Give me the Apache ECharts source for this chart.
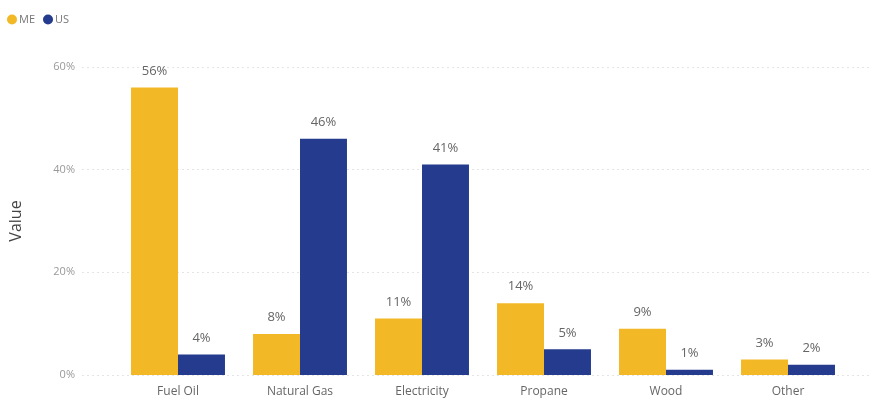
<!DOCTYPE html>
<html>
<head>
<meta charset="utf-8">
<script src="https://cdn.jsdelivr.net/npm/echarts@6/dist/echarts.min.js"></script>
<style>
  html, body { margin: 0; padding: 0; background: #fff; }
  #chart { width: 879px; height: 401px; }
</style>
</head>
<body>
<div id="chart"></div>
<script>
// Home heating fuel shares, Maine vs. United States (percent of households)
const categories = ['Fuel Oil', 'Natural Gas', 'Electricity', 'Propane', 'Wood', 'Other'];
const meValues = [56, 8, 11, 14, 9, 3];
const usValues = [4, 46, 41, 5, 1, 2];
const yTicks = [0, 20, 40, 60];

const FONT = '"Open Sans", "Noto Sans", sans-serif';
const chart = echarts.init(document.getElementById('chart'));

const labelStyle = {
  show: true,
  position: 'top',
  distance: 10,
  color: '#666',
  fontSize: 13,
  fontFamily: FONT,
  formatter: p => p.value + '%'
};

chart.setOption({
  animation: false,
  textStyle: { fontFamily: FONT },
  legend: {
    left: 2,
    top: 9,
    itemWidth: 10,
    itemHeight: 10,
    itemGap: 8,
    icon: 'circle',
    textStyle: { color: '#777', fontSize: 11, fontFamily: FONT, padding: [0, 0, 0, -3] },
    data: ['ME', 'US']
  },
  grid: [
    // wide grid carrying the gridlines and value axis labels
    { left: 75, right: 9, top: 67, bottom: 26 },
    // grid holding the bars
    { left: 117, right: 30, top: 67, bottom: 26 }
  ],
  xAxis: [
    { gridIndex: 0, type: 'value', show: false, min: 0, max: 1 },
    {
      gridIndex: 1,
      type: 'category',
      data: categories,
      axisLine: { show: false },
      axisTick: { show: false },
      axisLabel: { color: '#666', fontSize: 12, fontFamily: FONT, margin: 11 }
    }
  ],
  yAxis: [
    {
      gridIndex: 0,
      type: 'value',
      min: yTicks[0],
      max: yTicks[yTicks.length - 1],
      interval: 20,
      name: 'Value',
      nameLocation: 'middle',
      nameGap: 50,
      nameTextStyle: { color: '#444', fontSize: 16, fontFamily: FONT, padding: [0, 0, 8, 0] },
      axisLine: { show: false },
      axisTick: { show: false },
      axisLabel: { color: '#999', fontSize: 11, fontFamily: FONT, margin: 7, formatter: v => v + '%' },
      splitLine: { show: true, lineStyle: { color: '#e4e4e4', type: [2, 3], width: 1 } }
    },
    {
      gridIndex: 1,
      type: 'value',
      min: yTicks[0],
      max: yTicks[yTicks.length - 1],
      interval: 20,
      show: false,
      splitLine: { show: false }
    }
  ],
  series: [
    {
      name: 'ME',
      type: 'bar',
      xAxisIndex: 1,
      yAxisIndex: 1,
      data: meValues,
      itemStyle: { color: '#F3B825' },
      barGap: '0%',
      barCategoryGap: '23%',
      label: labelStyle
    },
    {
      name: 'US',
      type: 'bar',
      xAxisIndex: 1,
      yAxisIndex: 1,
      data: usValues,
      itemStyle: { color: '#243B8E' },
      barGap: '0%',
      barCategoryGap: '23%',
      label: labelStyle
    }
  ]
});
</script>
</body>
</html>
